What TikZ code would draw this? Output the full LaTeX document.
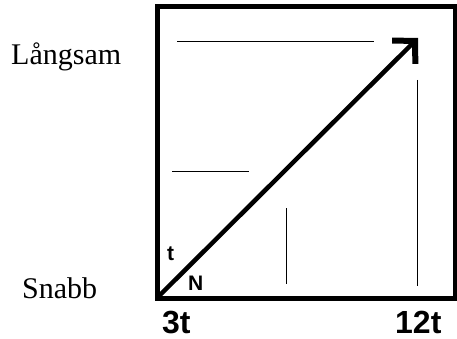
\documentclass[tikz,border=0pt]{standalone}
\usepackage{fontspec}
\setmainfont{Liberation Serif}
\setsansfont{Liberation Sans}
\usetikzlibrary{arrows.meta,positioning}

\begin{document}
\begin{tikzpicture}[x=1pt, y=-1pt,
    frame/.style={draw, line width=5pt},
    guide/.style={draw, line width=1pt},
    speed/.style={font=\fontsize{30}{32}\selectfont, anchor=base west, inner sep=0pt},
    tick/.style={font=\sffamily\bfseries\fontsize{32}{34}\selectfont, anchor=base west,
        inner sep=0pt, text depth=0pt},
    axlbl/.style={font=\sffamily\bfseries\fontsize{21}{23}\selectfont, anchor=base west, inner sep=0pt},
    line/.style={draw, line width=4.5pt,
        -{Straight Barb[length=16pt, width=33pt, line width=6pt]}}]

    \useasboundingbox (0,0) rectangle (457,339);

    % ====== Frame ======
    \path [frame] (157.5,6.5) rectangle (455,298);

    % ====== Guide lines ======
    \path [guide] (177,41.5) -- (374,41.5);
    \path [guide] (172,171) -- (249,171);
    \path [guide] (286,208) -- (286,284);
    \path [guide] (417,80)  -- (417,286);

    % ====== Labels ======
    \node [speed] (slow) at (11,65)  {Långsam};
    \node [speed] (fast) at (22,298) {Snabb};
    \node [tick]  (low)  at (162,333) {3t};
    \node [tick]  (high) at (395,333) {12t};
    \node [axlbl] (tax)  at (167,260) {t};
    \node [axlbl] (nax)  at (188,290) {N};

    % ====== Arrow ======
    \coordinate (origin) at (159,296);
    \coordinate (tip)    at (418,38);
    \path [line] (origin) -- (tip);
\end{tikzpicture}
\end{document}
